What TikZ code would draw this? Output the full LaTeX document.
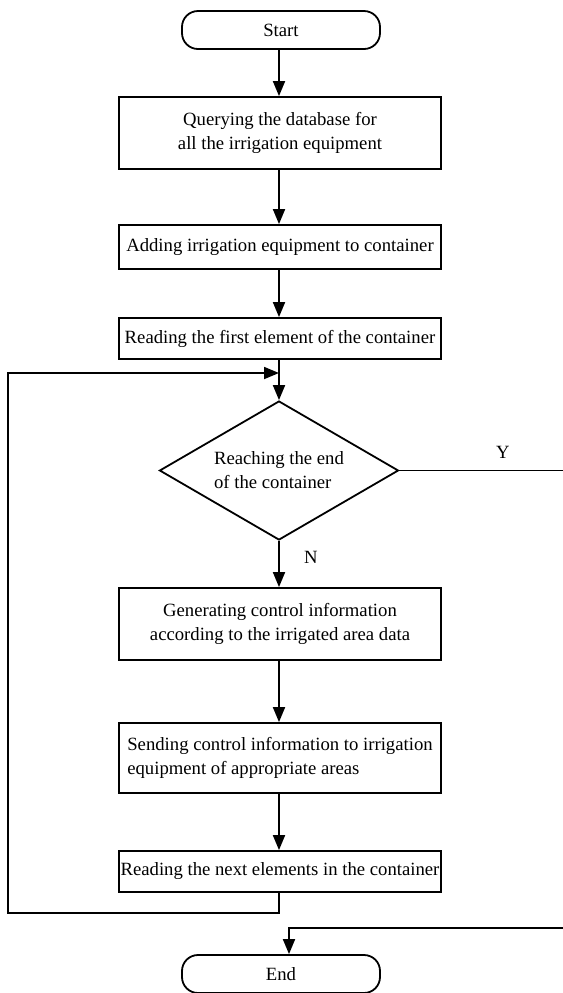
\documentclass[tikz,border=0pt]{standalone}
\usepackage{fontspec}
\setmainfont{Liberation Serif}
\usepackage{tikz}
\usetikzlibrary{shapes.geometric, arrows.meta}
\tikzset{
	stepbox/.style={
			shape=rectangle,
			draw=black,
			line width=0.9pt,
			minimum width=161pt,
			inner sep=0pt
		},
	termnode/.style={
			shape=rectangle,
			draw=black,
			line width=0.9pt,
			rounded corners=8pt,
			minimum width=99pt,
			minimum height=19pt,
			inner sep=0pt
		},
	decnode/.style={
			shape=diamond,
			draw=black,
			line width=0.9pt,
			aspect=1.72,
			minimum width=119.5pt,
			minimum height=69.5pt,
			inner sep=0pt,
			align=left
		},
	flow/.style={
			line width=0.9pt,
			-{Triangle[length=7.5pt,width=6pt]}
		},
	wire/.style={
			line width=0.9pt
		}
}

\begin{document}
\begin{tikzpicture}[x=0.5pt, y=-0.5pt, font=\fontsize{9.35}{12}\selectfont]
  \useasboundingbox (0,0) rectangle (563,993);

  \node[termnode] (start) at (281,30) {Start};
  \node[stepbox, minimum height=36pt, align=center] (b1) at (280,133) {Querying the database for\\all the irrigation equipment};
  \node[stepbox, minimum height=22pt] (b2) at (280,247) {Adding irrigation equipment to container};
  \node[stepbox, minimum height=20.5pt] (b3) at (280,338.5) {Reading the first element of the container};
  \node[decnode] (dec) at (279,470.5) {Reaching the end\\of the container};
  \node[stepbox, minimum height=36pt, align=center] (b4) at (280,624) {Generating control information\\according to the irrigated area data};
  \node[stepbox, minimum height=35pt, align=left] (b5) at (280,758) {Sending control information to irrigation\\equipment of appropriate areas};
  \node[stepbox, minimum height=20.5pt] (b6) at (280,871.5) {Reading the next elements in the container};
  \node[termnode] (stop) at (281,974) {End};

  \node (ylab) at (503,452) {Y};
  \node (nlab) at (311,557) {N};

  % loop and exit points
  \coordinate (loopin) at (279,373);
  \coordinate (loopcorner) at (8,913);
  \coordinate (yout) at (563,470.5);
  \coordinate (nin) at (563,928);

  \draw[flow] (start.south -| dec.north) -- (b1.north -| dec.north);
  \draw[flow] (b1.south -| dec.north) -- (b2.north -| dec.north);
  \draw[flow] (b2.south -| dec.north) -- (b3.north -| dec.north);
  \draw[flow] (b3.south -| dec.north) -- (dec.north);
  \draw[flow] (dec.south) -- (b4.north -| dec.south);
  \draw[flow] (b4.south -| dec.south) -- (b5.north -| dec.south);
  \draw[flow] (b5.south -| dec.south) -- (b6.north -| dec.south);
  \draw[flow] (b6.south -| dec.south) |- (loopcorner) |- (loopin);
  \draw[wire] (dec.east) -- (yout);
  \draw[flow] (nin) -| ([xshift=4pt]stop.north);

\end{tikzpicture}
\end{document}
